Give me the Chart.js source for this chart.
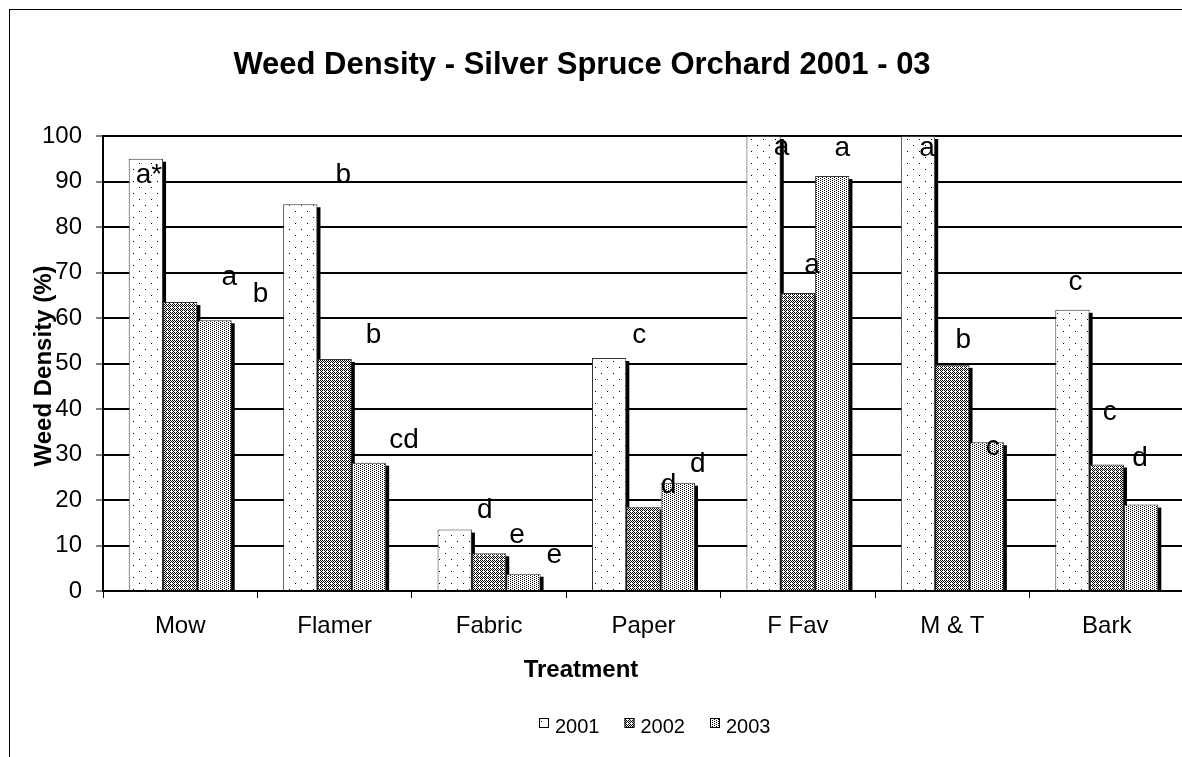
<!DOCTYPE html>
<html>
<head>
<meta charset="utf-8">
<title>Weed Density - Silver Spruce Orchard 2001 - 03</title>
<script src="https://cdn.jsdelivr.net/npm/chart.js@4"></script>
<style>
html, body { margin: 0; padding: 0; background: #fff; overflow: hidden; }
#wrap { width: 1200px; height: 757px; }
</style>
</head>
<body>
<div id="wrap"><canvas id="myChart" width="1200" height="757"></canvas></div>
<script>
// data
const treatments = ['Mow', 'Flamer', 'Fabric', 'Paper', 'F Fav', 'M & T', 'Bark'];
const years = ['2001', '2002', '2003'];
const density2001 = [95, 85, 13.5, 51.2, 100, 100, 61.8];
const density2002 = [63.5, 51, 8.3, 18.5, 65.5, 49.7, 27.8];
const density2003 = [59.5, 28.2, 3.8, 23.8, 91.2, 32.7, 19];

// significance letters
const letters2001 = ['a*', 'b', 'd', 'c', 'a', 'a', 'c'];
const letters2002 = ['a', 'b', 'e', 'd', 'a', 'b', 'c'];
const letters2003 = ['b', 'cd', 'e', 'd', 'a', 'c', 'd'];
// where each letter sits: baseline in % units, and shift from the bar centre in px
const letterAt2001 = [89.7, 89.7, 16, 54.4, 95.8, 95.6, 66.2];
const letterAt2002 = [67.3, 54.5, 10.5, 21.5, 70, 53.4, 37.6];
const letterAt2003 = [63.5, 31.4, 6.1, 26.2, 95.6, 29.9, 27.5];
const letterDx2001 = [3, 43, 30, 30, 18, 9, 3];
const letterDx2002 = [49, 39, 28, 25, 14, 11, 3];
const letterDx2003 = [46, 35, 31, 20, 10, 6, -1];

const FONT = '"Liberation Sans", Arial, sans-serif';

function makePattern(w, h, dots) {
    const c = document.createElement('canvas');
    c.width = w;
    c.height = h;
    const g = c.getContext('2d');
    g.fillStyle = '#fff';
    g.fillRect(0, 0, w, h);
    g.fillStyle = '#000';
    dots.forEach(function(d) { g.fillRect(d[0], d[1], 1, 1); });
    return g.createPattern(c, 'repeat');
}

const patterns = [
    makePattern(12, 12, [[1, 1], [7, 7]]),
    makePattern(4, 4, [[0, 0], [2, 0], [1, 1], [3, 1], [0, 2], [2, 2], [1, 3]]),
    makePattern(4, 4, [[0, 0], [2, 1], [0, 2], [2, 3]])
];

const letterSets = [
    { text: letters2001, at: letterAt2001, dx: letterDx2001 },
    { text: letters2002, at: letterAt2002, dx: letterDx2002 },
    { text: letters2003, at: letterAt2003, dx: letterDx2003 }
];

// shadows, letters, titles, legend and the outer frame
const extras = {
    id: 'extras',
    beforeDatasetsDraw(chart) {
        const ctx = chart.ctx;
        ctx.save();
        ctx.fillStyle = '#000';
        chart.data.datasets.forEach(function(ds, i) {
            chart.getDatasetMeta(i).data.forEach(function(bar) {
                const p = bar.getProps(['x', 'y', 'width', 'base'], true);
                ctx.fillRect(p.x - p.width / 2 + 3, p.y + 3, p.width, p.base - p.y - 3);
            });
        });
        ctx.restore();
    },
    afterDatasetsDraw(chart) {
        const ctx = chart.ctx;
        const yScale = chart.scales.y;
        ctx.save();
        ctx.fillStyle = '#000';
        ctx.font = '28px ' + FONT;
        ctx.textAlign = 'center';
        ctx.textBaseline = 'alphabetic';
        letterSets.forEach(function(set, i) {
            chart.getDatasetMeta(i).data.forEach(function(bar, j) {
                ctx.fillText(set.text[j], bar.x + set.dx[j], yScale.getPixelForValue(set.at[j]));
            });
        });
        ctx.restore();
    },
    afterDraw(chart) {
        const ctx = chart.ctx;
        ctx.save();
        ctx.strokeStyle = '#000';
        ctx.lineWidth = 1;
        ctx.strokeRect(9.5, 9.5, 1400, 1000);

        ctx.fillStyle = '#000';
        ctx.textAlign = 'center';
        ctx.textBaseline = 'alphabetic';
        ctx.font = 'bold 31px ' + FONT;
        ctx.fillText('Weed Density - Silver Spruce Orchard 2001 - 03', 582, 74);

        ctx.font = 'bold 24px ' + FONT;
        ctx.fillText('Treatment', 581, 677);

        ctx.save();
        ctx.translate(51, 366);
        ctx.rotate(-Math.PI / 2);
        ctx.fillText('Weed Density (%)', 0, 0);
        ctx.restore();

        // legend
        ctx.font = '20px ' + FONT;
        ctx.textAlign = 'left';
        const box = 10, gap = 6, space = 25;
        const widths = years.map(function(y) { return ctx.measureText(y).width; });
        let total = 0;
        widths.forEach(function(w) { total += box + gap + w; });
        total += space * (years.length - 1);
        let x = Math.round(655 - total / 2);
        years.forEach(function(y, i) {
            ctx.fillStyle = patterns[i];
            ctx.fillRect(x, 718, box, box);
            ctx.strokeStyle = '#000';
            ctx.strokeRect(x + 0.5, 718.5, box - 1, box - 1);
            ctx.fillStyle = '#000';
            ctx.fillText(y, x + box + gap, 733);
            x += box + gap + widths[i] + space;
        });
        ctx.restore();
    }
};

const ctx = document.getElementById('myChart').getContext('2d');
new Chart(ctx, {
    type: 'bar',
    data: {
        labels: treatments,
        datasets: [density2001, density2002, density2003].map(function(vals, i) {
            return {
                label: years[i],
                data: vals,
                backgroundColor: patterns[i],
                borderColor: '#333',
                borderWidth: 1,
                borderSkipped: 'start',
                categoryPercentage: 0.667,
                barPercentage: 1
            };
        })
    },
    options: {
        responsive: false,
        animation: false,
        events: [],
        layout: { padding: { top: 136, right: 16, left: 0, bottom: 116 } },
        plugins: {
            legend: { display: false },
            title: { display: false },
            tooltip: { enabled: false }
        },
        scales: {
            x: {
                offset: true,
                grid: {
                    offset: true,
                    drawOnChartArea: false,
                    drawTicks: true,
                    tickLength: 7,
                    tickWidth: 1,
                    tickColor: '#000',
                    color: '#000'
                },
                border: { display: true, color: '#000', width: 2 },
                ticks: { color: '#000', font: { family: FONT, size: 24 }, padding: 14, maxRotation: 0, autoSkip: false },
                afterFit: function(scale) { scale.height = 50; }
            },
            y: {
                min: 0,
                max: 100,
                ticks: { stepSize: 10, color: '#000', font: { family: FONT, size: 24 }, padding: 14 },
                grid: {
                    color: '#000',
                    lineWidth: 2,
                    drawTicks: true,
                    tickLength: 7,
                    tickWidth: 1,
                    tickColor: '#000'
                },
                border: { display: true, color: '#000', width: 2 },
                afterFit: function(scale) { scale.width = 103; }
            }
        }
    },
    plugins: [extras]
});
</script>
</body>
</html>
